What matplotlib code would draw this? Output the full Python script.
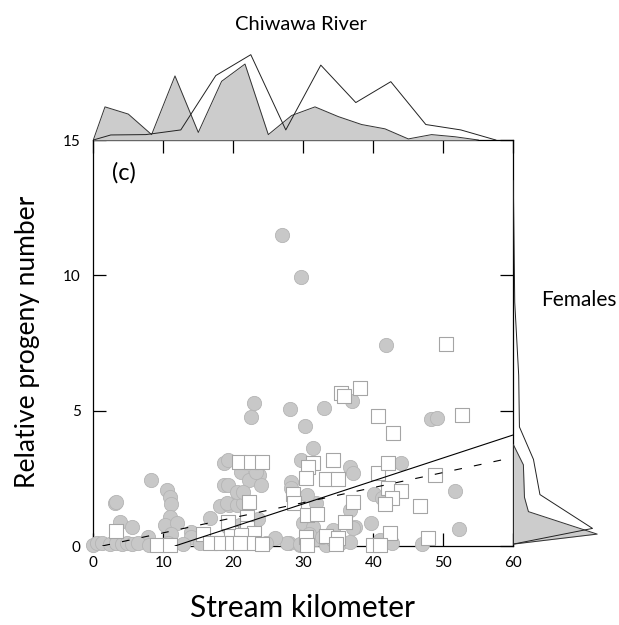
import matplotlib.pyplot as plt

plt.rcParams['font.family'] = ['Lato', 'DejaVu Sans']

# gray circles: stream km / relative progeny number
circ_km = [26.9, 29.6, 41.8,
           23.0, 28.1, 33.0, 37.0, 22.5, 30.3, 48.2, 49.1,
           31.4, 29.6, 36.6, 37.1, 44.0, 28.3, 28.3, 40.1, 41.2, 51.7, 31.8, 36.6, 30.5,
           30.0, 31.4, 37.4, 39.7, 52.2, 34.3,
           28.0, 29.5, 31.8, 33.2, 34.3, 35.2, 36.6, 37.1, 41.0, 42.6, 46.9,
           3.1, 3.2, 8.3, 10.5, 11.0, 11.1, 11.0, 10.2, 11.9, 3.8, 5.5, 7.8, 11.1, 14.0, 16.6, 14.0,
           18.6, 19.2, 18.6, 18.1, 19.4,
           0.0, 0.5, 1.2, 2.4, 3.3, 4.1, 4.8, 5.5, 6.4, 7.9, 15.2, 10.7,
           21.1, 23.6, 22.2, 24.0, 20.7, 19.3, 19.1, 20.5, 21.4, 20.9, 19.3, 20.5, 21.4, 23.2,
           27.6, 29.5, 23.5, 26.0, 12.8, 24.6, 30.8, 32.6]
circ_val = [11.49, 9.93, 7.43,
            5.27, 5.05, 5.11, 5.37, 4.75, 4.43, 4.68, 4.74,
            3.63, 3.18, 2.93, 2.71, 3.05, 2.38, 2.13, 1.92, 1.76, 2.04, 1.58, 1.33, 1.90,
            0.84, 0.71, 0.71, 0.86, 0.62, 0.60,
            0.10, 0.05, 0.25, 0.05, 0.22, 0.12, 0.15, 0.65, 0.22, 0.10, 0.08,
            1.58, 1.64, 2.44, 2.07, 1.82, 1.54, 1.08, 0.78, 0.84, 0.90, 0.71, 0.35, 0.44, 0.53, 1.02, 0.35,
            3.05, 3.18, 2.25, 1.48, 1.51,
            0.05, 0.10, 0.12, 0.08, 0.10, 0.07, 0.10, 0.08, 0.10, 0.05, 0.10, 0.10,
            2.74, 2.62, 2.44, 2.25, 1.95, 2.25, 1.58, 1.51, 1.58, 0.78, 0.71, 2.00, 2.00, 2.75,
            0.10, 0.07, 1.00, 0.30, 0.08, 0.12, 0.45, 0.35]

# white squares
sq_km = [50.4, 35.4, 35.8, 38.1, 52.7, 40.6, 42.8,
         20.8, 22.5, 24.1,
         31.4, 34.3, 30.7, 40.6, 42.1, 30.4, 33.3, 35.0, 48.8,
         28.5, 42.1, 44.0, 42.7, 41.7, 46.7, 28.6, 37.1, 22.2,
         30.5, 31.9, 35.9, 22.0, 22.0, 22.9, 19.7, 21.1,
         30.4, 33.2, 35.0, 42.4, 47.8,
         3.3, 19.2, 15.7,
         9.1, 11.0, 16.7, 18.3, 19.8, 21.0, 22.9, 24.1, 30.5, 34.7, 40.0, 41.0]
sq_val = [7.45, 5.64, 5.55, 5.83, 4.85, 4.80, 4.16,
          3.11, 3.11, 3.11,
          3.05, 3.18, 2.93, 2.71, 3.05, 2.50, 2.46, 2.46, 2.62,
          1.92, 2.13, 2.03, 1.76, 1.55, 1.48, 1.58, 1.64, 1.64,
          1.15, 1.18, 0.90, 1.08, 0.65, 0.47, 0.47, 0.41,
          0.35, 0.37, 0.28, 0.47, 0.28,
          0.55, 0.90, 0.44,
          0.04, 0.04, 0.10, 0.10, 0.10, 0.10, 0.10, 0.07, 0.05, 0.07, 0.04, 0.04]

# fitted lines (intercept, slope) and their km range
solid_fit = (-0.99, 0.0849)
solid_km = [11.7, 60.0]
dash_fit = (-0.07, 0.0557)
dash_km = [1.3, 58.7]

# distribution along the river (top) and of progeny number (right)
top_gray_km = [0, 1.67, 5.0, 8.33, 11.67, 15.0, 18.33, 21.67, 25.0, 28.33, 31.67,
               35.0, 38.33, 41.67, 45.0, 48.33, 51.67, 55.0]
top_gray = [0, 0.092, 0.072, 0.015, 0.178, 0.021, 0.163, 0.211, 0.015, 0.068, 0.092,
            0.065, 0.043, 0.031, 0.003, 0.015, 0.009, 0]
top_white_km = [0, 2.5, 7.5, 12.5, 17.5, 22.5, 27.5, 32.5, 37.5, 42.5, 47.5, 52.5, 57.5]
top_white = [0, 0.014, 0.015, 0.028, 0.179, 0.237, 0.028, 0.208, 0.104, 0.162, 0.043, 0.028, 0]

right_gray_val = [3.75, 3.0, 1.8, 1.27, 0.44, 0.07]
right_gray = [0, 0.028, 0.031, 0.042, 0.233, 0]
right_white_val = [13.5, 9.0, 6.3, 4.4, 3.2, 1.9, 0.65, 0.07]
right_white = [0, 0.004, 0.015, 0.017, 0.056, 0.074, 0.220, 0]

W, H = 619, 625
fig = plt.figure(figsize=(W / 100, H / 100), dpi=100)

x0, x1, y0, y1 = 93.3, 513.3, 546, 140
ax = fig.add_axes([x0 / W, 1 - y0 / H, (x1 - x0) / W, (y0 - y1) / H])
axt = fig.add_axes([x0 / W, 1 - y1 / H, (x1 - x0) / W, 90 / H])
axr = fig.add_axes([x1 / W, 1 - y0 / H, 90 / W, (y0 - y1) / H])

ax.scatter(circ_km, circ_val, s=105, marker='o', facecolor='#c8c8c8',
           edgecolor='#b5b5b5', linewidth=0.6, clip_on=False, zorder=3)
ax.scatter(sq_km, sq_val, s=95, marker='s', facecolor='white',
           edgecolor='#a5a5a5', linewidth=0.8, clip_on=False, zorder=4)

ys = [solid_fit[0] + solid_fit[1] * k for k in solid_km]
ax.plot(solid_km, ys, color='black', lw=0.8, zorder=5)
yd = [dash_fit[0] + dash_fit[1] * k for k in dash_km]
ax.plot(dash_km, yd, color='black', lw=0.8, dashes=(7, 11), zorder=5)

ax.set_xlim(0, 60)
ax.set_ylim(0, 15)
ax.set_xticks([0, 10, 20, 30, 40, 50, 60])
ax.set_yticks([0, 5, 10, 15])
ax.tick_params(direction='in', length=9.5, width=0.9, labelsize=11,
               top=True, right=True, pad=7)
ax.tick_params(axis='y', pad=9)
for s in ax.spines.values():
    s.set_linewidth(0.9)
ax.text(4.4, 13.8, '(c)', fontsize=17, ha='center', va='center')

axt.fill_between(top_gray_km, top_gray, color='#cccccc', lw=0)
axt.plot(top_gray_km, top_gray, color='#333333', lw=0.7)
axt.plot(top_white_km, top_white, color='#222222', lw=0.7)
axt.set_xlim(0, 60)
axt.set_ylim(0, 0.25)
axt.axis('off')

axr.fill_betweenx(right_gray_val, right_gray, color='#cccccc', lw=0)
axr.plot(right_gray, right_gray_val, color='#333333', lw=0.7)
axr.plot(right_white, right_white_val, color='#222222', lw=0.7)
axr.set_ylim(0, 15)
axr.set_xlim(0, 0.25)
axr.axis('off')

fig.text(301 / W, 1 - 25 / H, 'Chiwawa River', fontsize=14.5, ha='center', va='center')
fig.text(579 / W, 1 - 300 / H, 'Females', fontsize=15, ha='center', va='center')
fig.text(28 / W, 1 - 342 / H, 'Relative progeny number', fontsize=19,
         rotation=90, ha='center', va='center')
fig.text(303 / W, 1 - 608 / H, 'Stream kilometer', fontsize=21.5, ha='center', va='center')

fig.savefig('out.png', dpi=100)
